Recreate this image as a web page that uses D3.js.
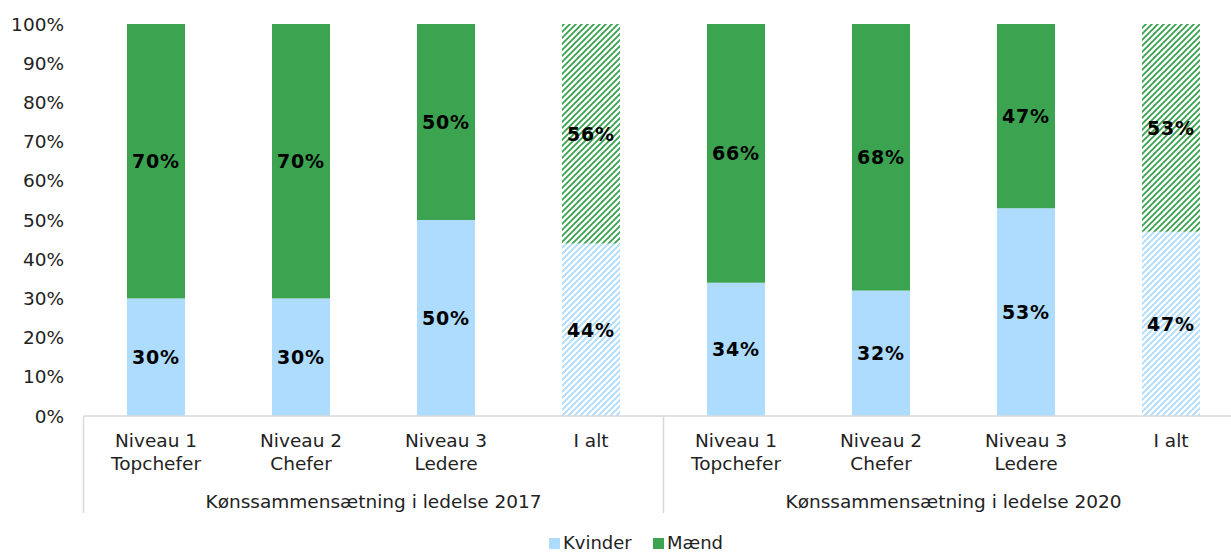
<!DOCTYPE html>
<html><head><meta charset="utf-8">
<script src="https://cdn.jsdelivr.net/npm/d3@7"></script>
<style>body{margin:0;background:#fff;} text{font-family:"DejaVu Sans",Verdana,sans-serif;}</style>
</head><body><svg id="c" width="1231" height="554"></svg>
<script>
const categories = ["Niveau 1|Topchefer","Niveau 2|Chefer","Niveau 3|Ledere","I alt","Niveau 1|Topchefer","Niveau 2|Chefer","Niveau 3|Ledere","I alt"];
const groups = ["Kønssammensætning i ledelse 2017","Kønssammensætning i ledelse 2020"];
const kvinder = [30,30,50,44,34,32,53,47];
const maend = [70,70,50,56,66,68,47,53];
const hatched = [false,false,false,true,false,false,false,true];
const yTicks = [0,10,20,30,40,50,60,70,80,90,100];
const seriesNames = ["Kvinder","Mænd"];
const colors = ["#ADDCFF","#3CA451"];

(function(){
const svg = d3.select("#c");
const pL = 83.5, pR = 1243.5, pT = 24, pB = 416;
const x = d3.scaleBand().domain(d3.range(categories.length)).range([pL,pR]).paddingInner(0.6).paddingOuter(0.3);
const xb = d3.scaleBand().domain(d3.range(categories.length)).range([pL,pR]);
const y = d3.scaleLinear().domain([0,100]).range([pB,pT]);

const defs = svg.append("defs");
colors.forEach((c,i)=>{
  const p = defs.append("pattern").attr("id","h"+i).attr("patternUnits","userSpaceOnUse").attr("width",6).attr("height",6);
  p.append("path").attr("d","M-1,1 l2,-2 M0,6 l6,-6 M5,7 l2,-2").attr("stroke",c).attr("stroke-width",1.9);
});

svg.append("g").selectAll("text").data(yTicks).join("text")
  .attr("x",64).attr("y",d=>y(d)).attr("dy","0.36em").attr("text-anchor","end")
  .attr("font-size",18.5).attr("fill","#222").text(d=>d+"%");

const data = categories.map((c,i)=>({i, k:kvinder[i], m:maend[i], h:hatched[i]}));
const g = svg.append("g");
data.forEach(d=>{
  g.append("rect").attr("x",x(d.i)).attr("width",x.bandwidth()).attr("y",y(d.k)).attr("height",y(0)-y(d.k))
    .attr("fill",d.h?"url(#h0)":colors[0]);
  g.append("rect").attr("x",x(d.i)).attr("width",x.bandwidth()).attr("y",y(d.k+d.m)).attr("height",y(d.k)-y(d.k+d.m))
    .attr("fill",d.h?"url(#h1)":colors[1]);
  [[d.k/2,d.k],[d.k+d.m/2,d.m]].forEach(([pos,v])=>{
    g.append("text").attr("x",x(d.i)+x.bandwidth()/2).attr("y",y(pos)).attr("dy","0.36em").attr("text-anchor","middle")
      .attr("font-size",19).attr("font-weight","bold").attr("letter-spacing","0.8px").attr("fill","#000").text(v+"%");
  });
});

const ax = svg.append("g").attr("stroke","#d9d9d9").attr("stroke-width",1.5);
ax.append("line").attr("x1",pL).attr("x2",pR).attr("y1",pB).attr("y2",pB);
ax.append("line").attr("x1",pL).attr("x2",pL).attr("y1",pB).attr("y2",513);
ax.append("line").attr("x1",xb(4)).attr("x2",xb(4)).attr("y1",pB).attr("y2",513);

categories.forEach((c,i)=>{
  const lines = c.split("|");
  const t = svg.append("text").attr("text-anchor","middle").attr("font-size",18.5).attr("fill","#222");
  lines.forEach((l,j)=>t.append("tspan").attr("x",xb(i)+xb.bandwidth()/2).attr("y",447+j*23).text(l));
});
groups.forEach((gname,gi)=>{
  svg.append("text").attr("x",(xb(gi*4)+xb(gi*4+3)+xb.bandwidth())/2).attr("y",508).attr("text-anchor","middle")
    .attr("font-size",18.5).attr("fill","#222").text(gname);
});

const lg = svg.append("g");
const lx = [549, 653];
seriesNames.forEach((s,i)=>{
  lg.append("rect").attr("x",lx[i]).attr("y",538).attr("width",11).attr("height",11).attr("fill",colors[i]);
  lg.append("text").attr("x",lx[i]+14).attr("y",549).attr("font-size",18).attr("fill","#222").text(s);
});
})();
</script></body></html>
